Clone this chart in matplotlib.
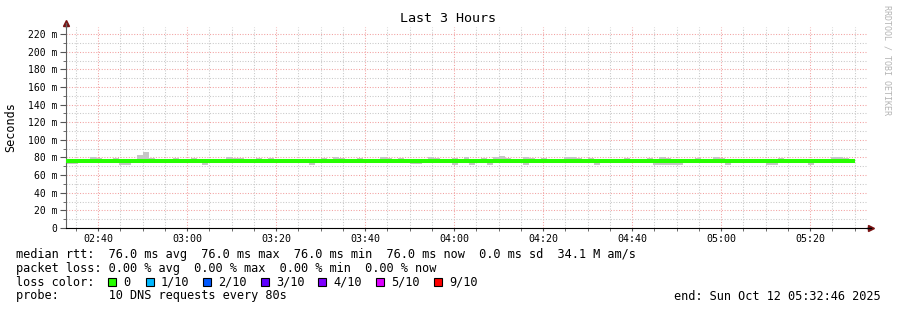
import numpy as np
import matplotlib.pyplot as plt
from matplotlib.patches import Rectangle

# time axis: minutes since 02:32:46, 3 hours shown, one sample every 80 s
start_min = 2 * 60 + 32 + 46 / 60
span_min = 180.0
step_min = 80 / 60

time_labels = ['02:40', '03:00', '03:20', '03:40', '04:00', '04:20', '04:40', '05:00', '05:20']
y_ticks = [0, 20, 40, 60, 80, 100, 120, 140, 160, 180, 200, 220]

# median rtt in ms, one value per 80 s step
n_steps = 133
median_ms = [76.0] * n_steps

# smoke (ping spread) per step: step index, min ms, max ms
smoke_step = [0, 1, 4, 5, 8, 9, 10, 12, 13, 14, 18, 21, 23, 27, 28, 29, 32, 34, 41, 43,
              45, 46, 49, 53, 54, 56, 58, 59, 61, 62, 65, 67, 68, 70, 71, 72, 73, 74, 77, 78,
              80, 84, 85, 86, 88, 89, 94, 98, 99, 100, 101, 102, 103, 106, 109, 110, 111,
              118, 119, 120, 125, 129, 130, 131]
smoke_lo = [73, 73, 76, 76, 76, 72, 72, 76, 76, 76, 76, 76, 72, 76, 76, 76, 76, 76, 72, 76,
            76, 76, 76, 76, 76, 76, 72.5, 72.5, 76, 76, 72, 76, 72, 76, 72, 76, 76, 76, 72, 76,
            76, 76, 76, 76, 76, 72, 76, 76, 71.5, 71.5, 71.5, 71.5, 71.5, 76, 76, 76, 72,
            72, 72, 76, 72, 76, 76, 76]
smoke_hi = [76, 76, 80, 79.5, 79.5, 76, 76, 83, 86.5, 79.5, 79.5, 79.5, 76, 80, 79.5, 79.5, 79.5, 79.5, 76, 79.5,
            80, 79.5, 79.5, 80, 79.5, 79.5, 76, 76, 80, 79.5, 79.5, 80, 76, 79.5, 76, 80, 81.5, 79.5, 80, 79.5,
            79.5, 80, 80, 79.5, 79.5, 76, 79.5, 79.5, 76, 80, 79.5, 76, 76, 79.5, 80, 79.5, 76,
            76, 76, 79.5, 76, 80.5, 80.5, 79.5]

loss_labels = ['0', '1/10', '2/10', '3/10', '4/10', '5/10', '9/10']
loss_colors = ['#26ff00', '#00b8ff', '#0059ff', '#5e00ff', '#7e00ff', '#dd00ff', '#ff0000']

W, H = 897, 310
mono = 'DejaVu Sans Mono'

fig = plt.figure(figsize=(W / 100, H / 100), dpi=100)
ax = fig.add_axes([66 / W, 82 / H, 801 / W, 201 / H])
ax.set_xlim(0, span_min)
ax.set_ylim(0, 228)


def fx(px):
    return px / W


def fy(py):
    return 1 - py / H


# grid
major_x = [int(t[:2]) * 60 + int(t[3:]) - start_min for t in time_labels]
minor_x = np.arange(major_x[0] % 5, span_min, 5)
ax.set_xticks(major_x)
ax.set_xticklabels(time_labels)
ax.set_xticks(minor_x, minor=True)
ax.set_yticks(y_ticks)
ax.set_yticklabels(['0'] + [f'{v} m' for v in y_ticks[1:]])
ax.set_yticks(np.arange(10, 228, 10), minor=True)
ax.grid(which='minor', color='#c8c8c8', linestyle=(0, (1, 1.6)), linewidth=0.75)
ax.grid(which='major', color='#f2a0a0', linestyle=(0, (1, 1.6)), linewidth=0.75)
ax.set_axisbelow(True)

ax.tick_params(axis='both', which='both', labelsize=7.0, colors='#555555', labelcolor='black')
ax.tick_params(axis='y', which='major', length=4, pad=2)
ax.tick_params(axis='y', which='minor', length=2)
ax.tick_params(axis='x', which='major', length=2, pad=2, labelsize=7.2)
ax.tick_params(axis='x', which='minor', length=2)
for lab in ax.get_xticklabels() + ax.get_yticklabels():
    lab.set_family(mono)

for s in ['top', 'right']:
    ax.spines[s].set_visible(False)
ax.spines['left'].set_color('#606060')
ax.spines['bottom'].set_color('black')

# smoke
ax.bar([s * step_min for s in smoke_step], np.array(smoke_hi) - np.array(smoke_lo),
       bottom=smoke_lo, width=step_min, align='edge', color='#c6c6c6', linewidth=0, zorder=2)

# median line
t_edges = np.arange(n_steps + 1) * step_min
ax.step(t_edges, median_ms + median_ms[-1:], where='post', color='#26ff00',
        linewidth=2.9, solid_capstyle='butt', zorder=3)

# axis arrows
ax.plot([0], [1 + 4 / 201], marker='^', markersize=4.5, color='#7a1212',
        transform=ax.transAxes, clip_on=False)
ax.plot([0, 0], [1, 1 + 4 / 201], color='#606060', linewidth=1,
        transform=ax.transAxes, clip_on=False)
ax.plot([1 + 4 / 801], [0], marker='>', markersize=4.5, color='#7a1212',
        transform=ax.transAxes, clip_on=False)
ax.plot([1, 1 + 4 / 801], [0, 0], color='black', linewidth=1,
        transform=ax.transAxes, clip_on=False)

# texts
fig.text(fx(448), fy(19), 'Last 3 Hours', ha='center', va='center', fontsize=9.6, family=mono)
fig.text(fx(11), fy(127), 'Seconds', rotation=90, ha='center', va='center', fontsize=8.5, family=mono)
fig.text(fx(887), fy(60), 'RRDTOOL / TOBI OETIKER', rotation=270, ha='center', va='center',
         fontsize=6.0, family=mono, color='#b4b4b4')

fs = 8.55
fig.text(fx(16), fy(254.5), 'median rtt:  76.0 ms avg  76.0 ms max  76.0 ms min  76.0 ms now  0.0 ms sd  34.1 M am/s',
         ha='left', va='center', fontsize=fs, family=mono)
fig.text(fx(16), fy(268.3), 'packet loss: 0.00 % avg  0.00 % max  0.00 % min  0.00 % now',
         ha='left', va='center', fontsize=fs, family=mono)
fig.text(fx(16), fy(282.3), 'loss color:', ha='left', va='center', fontsize=fs, family=mono)
box_x = [108, 146, 203, 261, 318, 376, 434]
for bx, lab, col in zip(box_x, loss_labels, loss_colors):
    fig.add_artist(Rectangle((fx(bx), fy(286.3)), 8 / W, 8 / H, transform=fig.transFigure,
                             facecolor=col, edgecolor='black', linewidth=0.8))
    fig.text(fx(bx + 15), fy(282.3), lab, ha='left', va='center', fontsize=fs, family=mono)
fig.text(fx(16), fy(296), 'probe:       10 DNS requests every 80s',
         ha='left', va='center', fontsize=fs, family=mono)
fig.text(fx(881), fy(296), 'end: Sun Oct 12 05:32:46 2025',
         ha='right', va='center', fontsize=fs, family=mono)

fig.savefig('out.png', dpi=100)
